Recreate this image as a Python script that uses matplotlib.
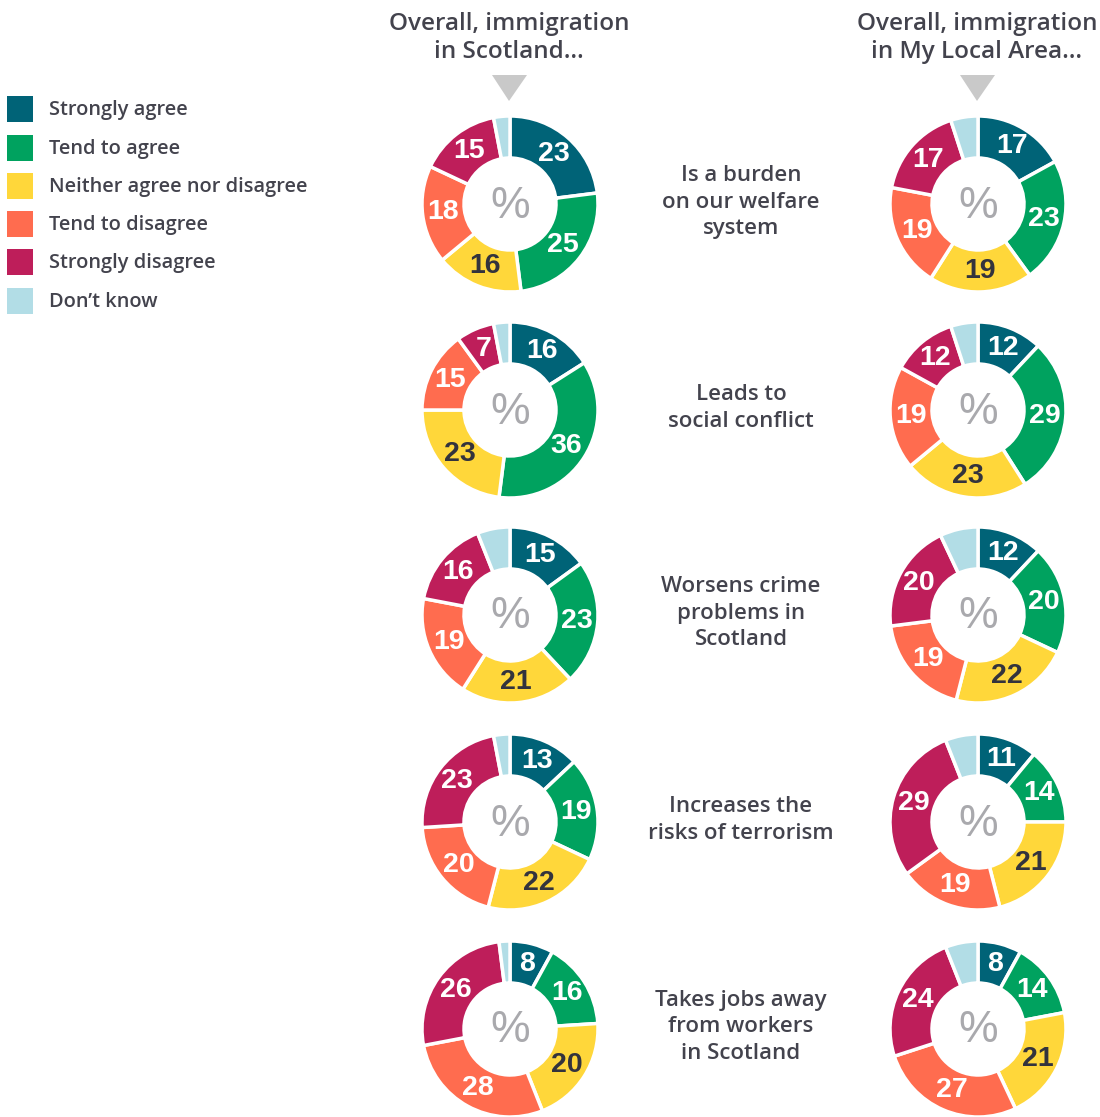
import math
import matplotlib
matplotlib.use("Agg")
import matplotlib.pyplot as plt
from matplotlib.patches import Polygon, Rectangle

# Survey responses (%), one list per response category, rows = statements
statements = [
    "Is a burden\non our welfare\nsystem",
    "Leads to\nsocial conflict",
    "Worsens crime\nproblems in\nScotland",
    "Increases the\nrisks of terrorism",
    "Takes jobs away\nfrom workers\nin Scotland",
]
categories = ["Strongly agree", "Tend to agree", "Neither agree nor disagree",
              "Tend to disagree", "Strongly disagree", "Don\u2019t know"]
colors = ["#006377", "#00A25F", "#FFD73A", "#FF6C4F", "#BE1E5A", "#B2DDE6"]

scotland_strongly_agree = [23, 16, 15, 13, 8]
scotland_tend_agree = [25, 36, 23, 19, 16]
scotland_neither = [16, 23, 21, 22, 20]
scotland_tend_disagree = [18, 15, 19, 20, 28]
scotland_strongly_disagree = [15, 7, 16, 23, 26]
scotland_dont_know = [3, 3, 6, 3, 2]

local_strongly_agree = [17, 12, 12, 11, 8]
local_tend_agree = [23, 29, 20, 14, 14]
local_neither = [19, 23, 22, 21, 21]
local_tend_disagree = [19, 19, 19, 19, 27]
local_strongly_disagree = [17, 12, 20, 29, 24]
local_dont_know = [5, 5, 7, 6, 6]

column_titles = ["Overall, immigration\nin Scotland\u2026",
                 "Overall, immigration\nin My Local Area\u2026"]

scotland = list(zip(scotland_strongly_agree, scotland_tend_agree, scotland_neither,
                    scotland_tend_disagree, scotland_strongly_disagree, scotland_dont_know))
local = list(zip(local_strongly_agree, local_tend_agree, local_neither,
                 local_tend_disagree, local_strongly_disagree, local_dont_know))

W, H = 1100, 1117
fig = plt.figure(figsize=(W / 100, H / 100), dpi=100)
ax = fig.add_axes([0, 0, 1, 1])

TEXT = "#43434d"
TEXT_FONT = ["Open Sans", "DejaVu Sans"]
NUM_FONT = ["Liberation Sans", "DejaVu Sans"]

col_x = [510, 978]
row_y = [204, 410, 615, 822, 1029]
R_OUT, R_IN = 88, 46
R_LABEL = (R_OUT + R_IN) / 2


def Y(y):
    return H - y


for cx, data in zip(col_x, [scotland, local]):
    for cy, vals in zip(row_y, data):
        ax.pie(vals, center=(cx, Y(cy)), radius=R_OUT, startangle=90,
               counterclock=False, colors=colors,
               wedgeprops=dict(width=R_OUT - R_IN, edgecolor="white", linewidth=2.5))
        total = float(sum(vals))
        cum = 0.0
        for i, v in enumerate(vals):
            mid = 90 - 360 * (cum + v / 2) / total
            cum += v
            if i == len(vals) - 1:
                continue
            tx = cx + R_LABEL * math.cos(math.radians(mid))
            ty = Y(cy) + R_LABEL * math.sin(math.radians(mid))
            ax.text(tx, ty, str(v), ha="center", va="center", fontsize=20.5,
                    fontweight="bold", family=NUM_FONT,
                    color="#33333d" if i == 2 else "white")
        ax.text(cx, Y(cy) - 2, "%", ha="center", va="center", fontsize=32,
                family=NUM_FONT, color="#a9a9ad")

# column headings with pointer triangles
for cx, title in zip(col_x, column_titles):
    ax.text(cx - 1, Y(38), title, ha="center", va="center", fontsize=17.5,
            fontweight="semibold", family=TEXT_FONT, color=TEXT, linespacing=1.22)
    ax.add_patch(Polygon([(cx - 18, Y(75)), (cx + 17, Y(75)), (cx - 1, Y(101))],
                         closed=True, facecolor="#c9c9c9", edgecolor="none"))

# statement labels
for cy, s in zip(row_y, statements):
    ax.text(741, Y(cy - 2), s, ha="center", va="center", fontsize=16,
            fontweight="semibold", family=TEXT_FONT, color=TEXT, linespacing=1.32)

# legend
leg_y = [109, 148, 186, 224, 262, 301]
for ly, c, lab in zip(leg_y, colors, categories):
    ax.add_patch(Rectangle((7, Y(ly + 13)), 26, 26, facecolor=c, edgecolor="none"))
    ax.text(49, Y(ly + 1), lab, ha="left", va="center", fontsize=14.4,
            fontweight="semibold", family=TEXT_FONT, color=TEXT)

ax.set_xlim(0, W)
ax.set_ylim(0, H)
ax.set_aspect("equal")
ax.axis("off")
fig.savefig("out.png", dpi=100)
